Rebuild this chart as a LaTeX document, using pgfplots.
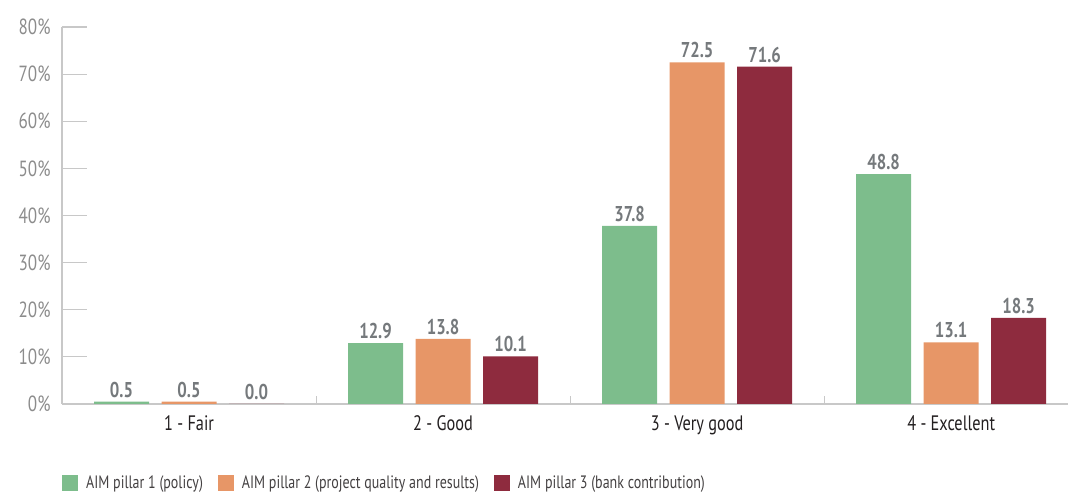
\documentclass[border=0pt]{standalone}
\usepackage{fontspec}
\setmainfont{PT Sans}[FakeStretch=0.78]
\usepackage{pgfplots}
\pgfplotsset{compat=1.18}
\usetikzlibrary{calc}

\definecolor{pgreen}{HTML}{7DBD8C}
\definecolor{porange}{HTML}{E79667}
\definecolor{pmaroon}{HTML}{8E2B3E}
\definecolor{valgray}{HTML}{75797C}
\definecolor{tickgray}{HTML}{8C8C8C}
\definecolor{axisgray}{HTML}{C8C8C8}
\definecolor{labdark}{HTML}{231F20}

\pgfplotsset{
  sqlegend/.style={legend image code/.code={\fill[##1,draw=none] (0bp,-8bp) rectangle (16bp,8bp);}},
}

\begin{document}
\begin{tikzpicture}
\begin{axis}[
    scale only axis,
    width=1006bp, height=377bp,
    ybar=12.5bp, bar width=55bp,
    xmin=-0.5, xmax=3.46,
    ymin=0, ymax=80,
    axis x line=bottom, axis y line=left,
    axis line style={-, draw=axisgray, line width=1.2bp},
    /pgf/number format/assume math mode=true,
    xtick={0,1,2,3},
    xticklabels={1 - Fair, 2 - Good, 3 - Very good, 4 - Excellent},
    xticklabel style={font=\fontsize{21}{21}\selectfont, text=labdark, yshift=-8bp},
    major x tick style={draw=none},
    minor xtick={0.5,1.5,2.5},
    minor x tick style={draw=axisgray, line width=1bp},
    minor tick length=8bp,
    tick align=inside,
    ytick={0,10,...,80},
    yticklabel={\pgfmathprintnumber{\tick}\%},
    yticklabel style={font=\fontsize{22}{22}\selectfont, text=tickgray, xshift=-8bp},
    major y tick style={draw=axisgray, line width=1.2bp},
    major tick length=25bp,
    nodes near coords={\pgfmathprintnumber[fixed,zerofill,precision=1]{\pgfplotspointmeta}},
    nodes near coords style={font=\fontsize{21.5}{21.5}\selectfont\bfseries, text=valgray, inner sep=4bp},
    clip=false,
    legend columns=-1,
    legend style={at={(0,-0.2095)}, anchor=west, draw=none, fill=none,
      inner xsep=0pt, inner ysep=0pt,
      font=\fontsize{18}{18}\selectfont, text=labdark!85,
      /tikz/every odd column/.append style={column sep=6bp},
      /tikz/every even column/.append style={column sep=13bp}},
]
\addplot[fill=pgreen, draw=none, sqlegend] coordinates {(0,0.5) (1,12.9) (2,37.8) (3,48.8)};
\addlegendentry{AIM pillar 1 (policy)}
\addplot[fill=porange, draw=none, sqlegend] coordinates {(0,0.5) (1,13.8) (2,72.5) (3,13.1)};
\addlegendentry{AIM pillar 2 (project quality and results)}
\addplot[fill=pmaroon, draw=none, sqlegend] coordinates {(0,0.0) (1,10.1) (2,71.6) (3,18.3)};
\addlegendentry{AIM pillar 3 (bank contribution)}
\end{axis}
\pgfresetboundingbox
\path[use as bounding box] ($(current axis.south west)+(-62bp,-89bp)$) rectangle ($(current axis.north east)+(0bp,27bp)$);
\end{tikzpicture}
\end{document}
